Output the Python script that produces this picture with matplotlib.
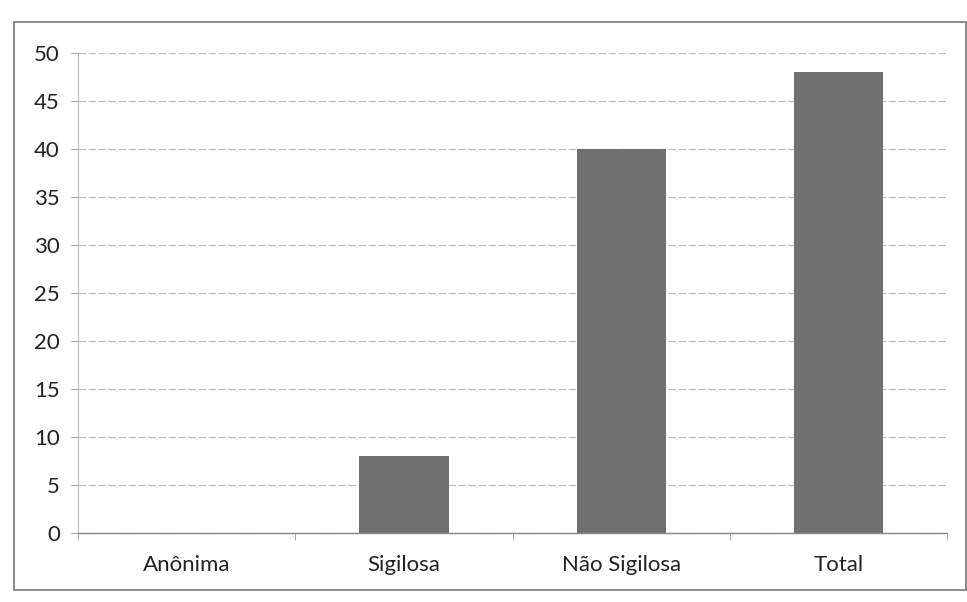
import matplotlib.pyplot as plt
import numpy as np

# dados
categorias = ["Anônima", "Sigilosa", "Não Sigilosa", "Total"]
valores = [0, 8, 40, 48]
yticks = [0, 5, 10, 15, 20, 25, 30, 35, 40, 45, 50]

plt.rcParams['font.family'] = ['Lato', 'DejaVu Sans']

fig = plt.figure(figsize=(9.67, 6.02), dpi=100)
ax = fig.add_axes([0.0807, 0.1146, 0.899, 0.798])

x = np.arange(len(categorias))
ax.bar(x, valores, width=0.41, color='#707070', zorder=3)

ax.set_xlim(-0.5, len(categorias) - 0.5)
ax.set_ylim(0, 50)
ax.set_yticks(yticks)
ax.set_xticks(x)
ax.set_xticklabels(categorias, fontsize=16, color='#222222')
ax.tick_params(axis='y', labelsize=16, labelcolor='#222222', length=5,
               color='#aaaaaa', pad=8)
ax.tick_params(axis='x', length=0, pad=16)
ax.set_xticks(np.arange(-0.5, len(categorias), 1), minor=True)
ax.tick_params(axis='x', which='minor', length=5, color='#999999')

ax.yaxis.grid(True, color='#bdbdbd', linewidth=0.9, linestyle=(0, (6, 2)), zorder=0)
for s in ['top', 'right']:
    ax.spines[s].set_visible(False)
ax.spines['left'].set_color('#bbbbbb')
ax.spines['left'].set_linewidth(0.8)
ax.spines['bottom'].set_color('#888888')
ax.spines['bottom'].set_linewidth(1.0)

# moldura do grafico
borda = plt.Rectangle((0.0145, 0.02), 0.984, 0.943, transform=fig.transFigure,
                      fill=False, edgecolor='#777777', linewidth=1.2)
fig.patches.append(borda)

fig.savefig('out.png', dpi=100)
